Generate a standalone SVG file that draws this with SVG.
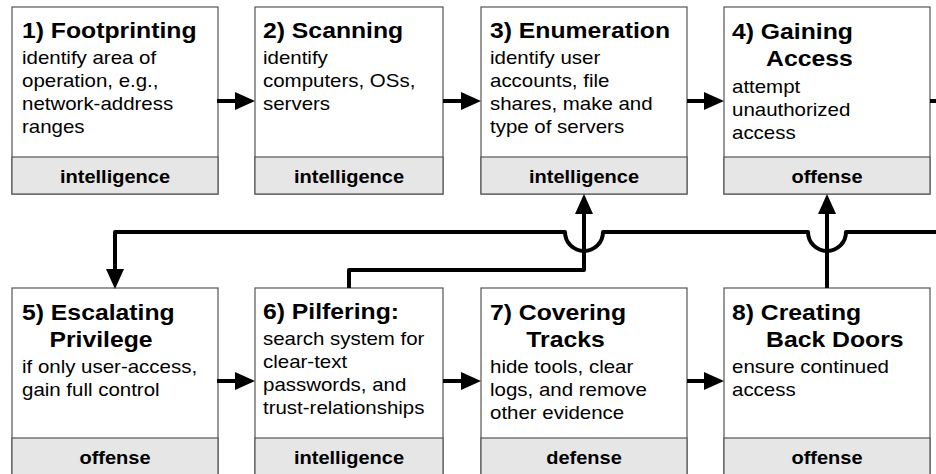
<svg xmlns="http://www.w3.org/2000/svg" width="936" height="474" viewBox="0 0 936 474">
<style>
.box{fill:#fff;stroke:#555;stroke-width:1.2}
.band{fill:#e6e6e6;stroke:#555;stroke-width:1.2}
text{font-family:"Liberation Sans",Arial,sans-serif;fill:#000}
.t{font-size:22.5px;font-weight:bold}
.b{font-size:18.6px}
.l{font-size:18.2px;font-weight:bold;text-anchor:middle}
.c{fill:none;stroke:#000;stroke-width:4;stroke-linejoin:round}
</style>
<defs>
<marker id="ah" viewBox="0 0 20 18" refX="0" refY="9" markerWidth="20" markerHeight="18" markerUnits="userSpaceOnUse" orient="auto">
<path d="M0,0 L20,9 L0,18 z" fill="#000"/>
</marker>
</defs>
<rect width="936" height="474" fill="#fff"/>

<g id="n1">
<rect class="box" x="12" y="7" width="206" height="187"/>
<rect class="band" x="12" y="157" width="206" height="37"/>
<text transform="translate(22,38) scale(1.1,1)"><tspan class="t" x="0" y="0">1) Footprinting</tspan><tspan class="b" x="0" dy="26">identify area of</tspan><tspan class="b" x="0" dy="23">operation, e.g.,</tspan><tspan class="b" x="0" dy="23">network-address</tspan><tspan class="b" x="0" dy="23">ranges</tspan></text>
<text class="l" transform="translate(115,183) scale(1.1,1)">intelligence</text>
</g>

<g id="n2">
<rect class="box" x="255" y="7" width="188" height="187"/>
<rect class="band" x="255" y="157" width="188" height="37"/>
<text transform="translate(263,38) scale(1.1,1)"><tspan class="t" x="0" y="0">2) Scanning</tspan><tspan class="b" x="0" dy="26">identify</tspan><tspan class="b" x="0" dy="23">computers, OSs,</tspan><tspan class="b" x="0" dy="23">servers</tspan></text>
<text class="l" transform="translate(349,183) scale(1.1,1)">intelligence</text>
</g>

<g id="n3">
<rect class="box" x="481" y="7" width="206" height="187"/>
<rect class="band" x="481" y="157" width="206" height="37"/>
<text transform="translate(490,38) scale(1.1,1)"><tspan class="t" x="0" y="0">3) Enumeration</tspan><tspan class="b" x="0" dy="26">identify user</tspan><tspan class="b" x="0" dy="23">accounts, file</tspan><tspan class="b" x="0" dy="23">shares, make and</tspan><tspan class="b" x="0" dy="23">type of servers</tspan></text>
<text class="l" transform="translate(584,183) scale(1.1,1)">intelligence</text>
</g>

<g id="n4">
<rect class="box" x="724" y="7" width="206" height="187"/>
<rect class="band" x="724" y="157" width="206" height="37"/>
<text transform="translate(732,39) scale(1.1,1)"><tspan class="t" x="0" y="0">4) Gaining</tspan><tspan class="t" x="31" dy="27">Access</tspan><tspan class="b" x="0" dy="27">attempt</tspan><tspan class="b" x="0" dy="23">unauthorized</tspan><tspan class="b" x="0" dy="23">access</tspan></text>
<text class="l" transform="translate(827,183) scale(1.1,1)">offense</text>
</g>

<g id="n5">
<rect class="box" x="12" y="288" width="206" height="187"/>
<rect class="band" x="12" y="438" width="206" height="37"/>
<text transform="translate(22,320) scale(1.1,1)"><tspan class="t" x="0" y="0">5) Escalating</tspan><tspan class="t" x="25" dy="27">Privilege</tspan><tspan class="b" x="0" dy="26">if only user-access,</tspan><tspan class="b" x="0" dy="23">gain full control</tspan></text>
<text class="l" transform="translate(115,464) scale(1.1,1)">offense</text>
</g>

<g id="n6">
<rect class="box" x="255" y="288" width="188" height="187"/>
<rect class="band" x="255" y="438" width="188" height="37"/>
<text transform="translate(263,319) scale(1.1,1)"><tspan class="t" x="0" y="0">6) Pilfering:</tspan><tspan class="b" x="0" dy="26">search system for</tspan><tspan class="b" x="0" dy="23">clear-text</tspan><tspan class="b" x="0" dy="23">passwords, and</tspan><tspan class="b" x="0" dy="23">trust-relationships</tspan></text>
<text class="l" transform="translate(349,464) scale(1.1,1)">intelligence</text>
</g>

<g id="n7">
<rect class="box" x="481" y="288" width="206" height="187"/>
<rect class="band" x="481" y="438" width="206" height="37"/>
<text transform="translate(490,320) scale(1.1,1)"><tspan class="t" x="0" y="0">7) Covering</tspan><tspan class="t" x="33" dy="27">Tracks</tspan><tspan class="b" x="0" dy="26">hide tools, clear</tspan><tspan class="b" x="0" dy="23">logs, and remove</tspan><tspan class="b" x="0" dy="23">other evidence</tspan></text>
<text class="l" transform="translate(584,464) scale(1.1,1)">defense</text>
</g>

<g id="n8">
<rect class="box" x="724" y="288" width="206" height="187"/>
<rect class="band" x="724" y="438" width="206" height="37"/>
<text transform="translate(732,320) scale(1.1,1)"><tspan class="t" x="0" y="0">8) Creating</tspan><tspan class="t" x="31" dy="27">Back Doors</tspan><tspan class="b" x="0" dy="26">ensure continued</tspan><tspan class="b" x="0" dy="23">access</tspan></text>
<text class="l" transform="translate(827,464) scale(1.1,1)">offense</text>
</g>

<g id="connectors">
<path class="c" d="M217,101 H235" marker-end="url(#ah)"/>
<path class="c" d="M443,101 H461" marker-end="url(#ah)"/>
<path class="c" d="M687,101 H704" marker-end="url(#ah)"/>
<path class="c" d="M930,101 H936"/>
<path class="c" d="M217,381 H235" marker-end="url(#ah)"/>
<path class="c" d="M443,381 H461" marker-end="url(#ah)"/>
<path class="c" d="M687,381 H704" marker-end="url(#ah)"/>
<path class="c" d="M938,232 H846 A19,19 0 0 1 808,232 H603 A19,19 0 0 1 565,232 H115 V269" marker-end="url(#ah)"/>
<path class="c" d="M349,288 V270 H584 V214" marker-end="url(#ah)"/>
<path class="c" d="M827,288 V214" marker-end="url(#ah)"/>
</g>
</svg>
